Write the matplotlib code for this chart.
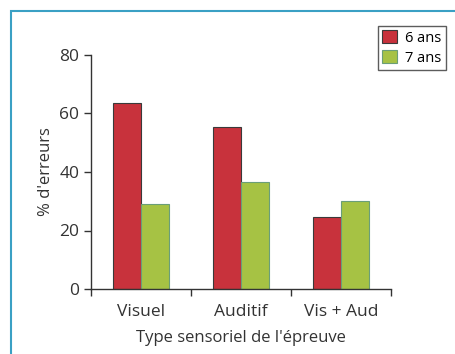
import numpy as np
import matplotlib.pyplot as plt
from matplotlib.patches import Rectangle

categories = ['Visuel', 'Auditif', 'Vis + Aud']
ans6 = [63.5, 55.5, 24.5]
ans7 = [29.2, 36.6, 30.1]
series_labels = ['6 ans', '7 ans']

plt.rcParams['font.family'] = ['Open Sans', 'DejaVu Sans']

fig = plt.figure(figsize=(4.55, 3.54), dpi=100)
ax = fig.add_axes([91/455, 65/354, 300/455, 234/354])

x = np.arange(1, len(categories) + 1)
w = 0.28
ax.bar(x - w/2, ans6, w, color='#c8323c', edgecolor='#3a3a3a', linewidth=0.8, label=series_labels[0])
ax.bar(x + w/2, ans7, w, color='#a6c244', edgecolor='#6a9e78', linewidth=0.8, label=series_labels[1])

ax.set_xlim(0.5, 3.5)
ax.set_ylim(0, 80)
ax.set_yticks([0, 20, 40, 60, 80])
ax.set_xticks([0.5, 1.5, 2.5, 3.5])
ax.set_xticklabels([])
ax.set_xticks(x, minor=True)
ax.set_xticklabels(categories, minor=True)
ax.tick_params(axis='x', which='minor', length=0, pad=11)
ax.tick_params(axis='both', which='major', length=5, width=1, color='#333333', labelsize=12.5, labelcolor='#333333')
ax.tick_params(axis='x', which='minor', labelsize=12.5, labelcolor='#333333')
for s in ['top', 'right']:
    ax.spines[s].set_visible(False)
for s in ['left', 'bottom']:
    ax.spines[s].set_color('#333333')
    ax.spines[s].set_linewidth(1)

ax.set_ylabel("% d'erreurs", fontsize=12, color='#333333', labelpad=4)
ax.set_xlabel("Type sensoriel de l'épreuve", fontsize=12, color='#333333', labelpad=7)

leg = ax.legend(loc='upper right', bbox_to_anchor=(446/455, 1 - 26/354), bbox_transform=fig.transFigure,
                fontsize=10.5, frameon=True, fancybox=False, edgecolor='#333333',
                handlelength=1.0, handleheight=1.0, handletextpad=0.6, borderpad=0.3, labelspacing=0.3,
                borderaxespad=0)
leg.get_frame().set_linewidth(1)

# cadre bleu autour de la figure
fig.add_artist(Rectangle((11/455, -0.1), 1.2, 1.1 - 11/354, transform=fig.transFigure,
                         fill=False, edgecolor='#3aa0c4', linewidth=1.5))

fig.savefig('out.png', dpi=100)
